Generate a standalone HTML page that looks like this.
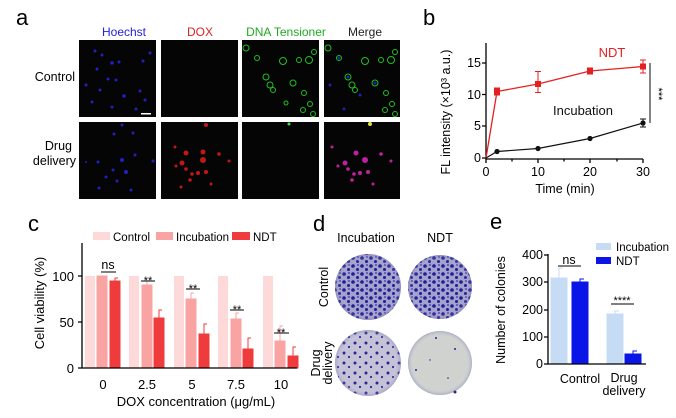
<!DOCTYPE html>
<html><head><meta charset="utf-8"><style>
body{margin:0;background:#fff;}
svg{display:block;font-family:"Liberation Sans",Arial,sans-serif;}
</style></head><body>
<svg width="676" height="418" viewBox="0 0 676 418" xmlns="http://www.w3.org/2000/svg">
<defs>
<pattern id="dense" width="9" height="8" patternUnits="userSpaceOnUse">
<rect width="9" height="8" fill="#a3a2cc"/>
<circle cx="2" cy="2" r="1.8" fill="#241a96"/><circle cx="6.5" cy="5.5" r="1.5" fill="#241a96"/><circle cx="7" cy="1" r="0.9" fill="#3a30a8"/>
</pattern>
<pattern id="med" width="11" height="10" patternUnits="userSpaceOnUse">
<rect width="11" height="10" fill="#c4c2d6"/>
<circle cx="3" cy="3" r="1.5" fill="#2f2696"/><circle cx="8" cy="7" r="1.1" fill="#2f2696"/>
</pattern>
<radialGradient id="rim"><stop offset="0.8" stop-color="#fff" stop-opacity="0"/><stop offset="1" stop-color="#6060a0" stop-opacity="0.3"/></radialGradient>
</defs>

<!-- Panel a -->
<text x="16" y="25" font-size="22">a</text>
<text x="124" y="36" font-size="12" fill="#2222dd" text-anchor="middle">Hoechst</text>
<text x="200" y="36" font-size="12" fill="#dd2222" text-anchor="middle">DOX</text>
<text x="286" y="36" font-size="12" fill="#22aa22" text-anchor="middle">DNA Tensioner</text>
<text x="365" y="36" font-size="12" fill="#222" text-anchor="middle">Merge</text>
<text x="75" y="81" font-size="12.5" text-anchor="end">Control</text>
<text x="72" y="150" font-size="12.5" text-anchor="end">Drug</text>
<text x="76" y="165" font-size="12.5" text-anchor="end">delivery</text>
<g fill="#050505">
<rect x="79" y="40" width="77" height="77"/><rect x="161" y="40" width="77" height="77"/><rect x="242" y="40" width="77" height="77"/><rect x="324" y="40" width="76" height="77"/>
<rect x="79" y="122" width="77" height="77"/><rect x="161" y="122" width="77" height="77"/><rect x="242" y="122" width="77" height="77"/><rect x="324" y="122" width="76" height="77"/>
</g>
<g fill="#2020c0">
<circle cx="95" cy="51" r="1.5"/><circle cx="102" cy="55" r="1.5"/><circle cx="112" cy="63" r="1.8"/><circle cx="119" cy="62" r="1.5"/><circle cx="97" cy="69" r="1.5"/><circle cx="108" cy="79" r="1.5"/><circle cx="116" cy="80" r="1.5"/><circle cx="86" cy="85" r="1.5"/><circle cx="100" cy="90" r="1.5"/><circle cx="124" cy="96" r="1.8"/><circle cx="140" cy="91" r="1.5"/><circle cx="145" cy="100" r="1.5"/><circle cx="92" cy="102" r="1.5"/><circle cx="112" cy="107" r="1.5"/><circle cx="136" cy="109" r="1.5"/><circle cx="150" cy="53" r="1.5"/><circle cx="143" cy="61" r="1.5"/>
<circle cx="122" cy="125" r="1.5"/><circle cx="114" cy="134" r="1.5"/><circle cx="133" cy="133" r="1.5"/><circle cx="135" cy="155" r="1.5"/><circle cx="122" cy="160" r="2"/><circle cx="98" cy="162" r="1.5"/><circle cx="113" cy="170" r="1.5"/><circle cx="126" cy="172" r="2"/><circle cx="106" cy="177" r="1.5"/><circle cx="117" cy="181" r="1.5"/><circle cx="99" cy="188" r="1.5"/><circle cx="131" cy="190" r="1.5"/><circle cx="153" cy="161" r="1.5"/><circle cx="86" cy="162" r="1"/>
</g>
<rect x="141" y="113" width="10" height="1.5" fill="#fff"/>
<g fill="none" stroke="#20c020" stroke-width="1">
<circle cx="246" cy="48" r="3"/><circle cx="257" cy="58" r="2.5"/><circle cx="283" cy="61" r="3.5"/><circle cx="299" cy="60" r="2.5"/><circle cx="314" cy="52" r="2.5"/><circle cx="309" cy="60" r="3.5"/><circle cx="266" cy="77" r="3"/><circle cx="270" cy="85" r="3"/><circle cx="273" cy="90" r="2.5"/><circle cx="293" cy="83" r="3"/><circle cx="304" cy="93" r="2.5"/><circle cx="310" cy="104" r="2.5"/><circle cx="303" cy="110" r="2.5"/><circle cx="286" cy="103" r="2"/><circle cx="313" cy="114" r="2.5"/>
<circle cx="328" cy="48" r="3"/><circle cx="339" cy="58" r="2.5"/><circle cx="365" cy="61" r="3.5"/><circle cx="381" cy="60" r="2.5"/><circle cx="395" cy="52" r="2.5"/><circle cx="391" cy="60" r="3.5"/><circle cx="348" cy="77" r="3"/><circle cx="352" cy="85" r="3"/><circle cx="355" cy="90" r="2.5"/><circle cx="375" cy="83" r="3"/><circle cx="386" cy="93" r="2.5"/><circle cx="392" cy="104" r="2.5"/><circle cx="385" cy="110" r="2.5"/><circle cx="395" cy="114" r="2.5"/>
</g>
<g fill="#2020b0"><circle cx="339" cy="58" r="1.5"/><circle cx="348" cy="77" r="1.5"/><circle cx="375" cy="83" r="1.5"/><circle cx="360" cy="95" r="1.5"/><circle cx="344" cy="109" r="1.5"/><circle cx="330" cy="85" r="1.5"/></g>
<circle cx="289" cy="124" r="1.5" fill="#40e040"/><circle cx="370" cy="124" r="2" fill="#e0e040"/>
<g fill="#c01818">
<circle cx="206" cy="125" r="2"/><circle cx="175" cy="147" r="1.5"/><circle cx="186" cy="153" r="2.5"/><circle cx="203" cy="152" r="2.5"/><circle cx="182" cy="163" r="2.5"/><circle cx="203" cy="160" r="3"/><circle cx="219" cy="154" r="1.8"/><circle cx="186" cy="169" r="1.8"/><circle cx="192" cy="174" r="1.8"/><circle cx="198" cy="173" r="2"/><circle cx="206" cy="172" r="2"/><circle cx="190" cy="180" r="1.8"/><circle cx="176" cy="166" r="1.5"/><circle cx="211" cy="184" r="1.5"/><circle cx="181" cy="187" r="1.5"/><circle cx="229" cy="161" r="1.5"/>
</g>
<g fill="#c020a0">
<circle cx="356" cy="153" r="2.5"/><circle cx="345" cy="163" r="2.5"/><circle cx="365" cy="160" r="3"/><circle cx="381" cy="154" r="1.8"/><circle cx="348" cy="169" r="1.8"/><circle cx="354" cy="174" r="1.8"/><circle cx="360" cy="173" r="2"/><circle cx="368" cy="172" r="2"/><circle cx="352" cy="180" r="1.8"/><circle cx="338" cy="166" r="1.5"/><circle cx="373" cy="184" r="1.5"/><circle cx="391" cy="161" r="1.5"/><circle cx="332" cy="147" r="1.5"/>
</g>

<!-- Panel b -->
<text x="423" y="25" font-size="22">b</text>
<g font-size="12.5" text-anchor="end">
<text x="481" y="67">15</text><text x="481" y="99">10</text><text x="481" y="130">5</text><text x="481" y="162">0</text>
</g>
<g stroke="#000" stroke-width="1.3" fill="none">
<path d="M486 43V159H643"/>
<path d="M482 63H486M482 94.5H486M482 126H486M482 158H486"/>
<path d="M486 159v4M538 159v4M590 159v4M643 159v4M512 159v2.5M564 159v2.5M617 159v2.5"/>
</g>
<g font-size="12.5" text-anchor="middle">
<text x="486" y="176">0</text><text x="538" y="176">10</text><text x="590" y="176">20</text><text x="643" y="176">30</text>
<text x="565" y="193">Time (min)</text>
</g>
<text transform="translate(450,112) rotate(-90)" font-size="12.5" text-anchor="middle">FL intensity (×10³ a.u.)</text>
<polyline points="486,158 497,91.5 538,84 590,71 643,66.5" fill="none" stroke="#e52020" stroke-width="1.3"/>
<g stroke="#e52020" stroke-width="1"><path d="M497 88v7M494 88h6M494 95h6M538 71.5v21M535 71.5h6M535 92.5h6M590 68v6M587 68h6M587 74h6M643 60v13M640 60h6M640 73h6"/></g>
<g fill="#e52020"><rect x="494" y="88.5" width="6" height="6"/><rect x="535" y="81" width="6" height="6"/><rect x="587" y="68" width="6" height="6"/><rect x="640" y="63.5" width="6" height="6"/></g>
<polyline points="486,158 497,151.5 538,148.5 590,138.5 643,123" fill="none" stroke="#111" stroke-width="1.2"/>
<g stroke="#111" stroke-width="1"><path d="M538 146v5M643 119v8M640 119h6M640 127h6"/></g>
<g fill="#111"><circle cx="497" cy="151.5" r="2.6"/><circle cx="538" cy="148.5" r="2.6"/><circle cx="590" cy="138.5" r="2.6"/><circle cx="643" cy="123" r="2.6"/></g>
<text x="612" y="57" font-size="13" fill="#e52020" text-anchor="middle">NDT</text>
<text x="583" y="115" font-size="13" fill="#111" text-anchor="middle">Incubation</text>
<path d="M650 63V123" stroke="#333" stroke-width="1.2"/>
<text transform="translate(655,94) rotate(90)" font-size="11" text-anchor="middle">***</text>

<!-- Panel c -->
<text x="28" y="231" font-size="22">c</text>
<g font-size="11.5">
<rect x="93" y="232" width="17" height="8" fill="#fdd9da"/><text x="113" y="241">Control</text>
<rect x="156" y="232" width="17" height="8" fill="#f9a3a3"/><text x="176" y="241">Incubation</text>
<rect x="232" y="232" width="18" height="8" fill="#ef3b3b"/><text x="253" y="241">NDT</text>
</g>
<g fill="#fdd9da">
<rect x="85" y="276" width="10" height="92"/><rect x="129" y="276" width="10" height="92"/><rect x="174" y="276" width="10" height="92"/><rect x="218" y="276" width="10" height="92"/><rect x="263" y="276" width="10" height="92"/>
</g>
<g fill="#f9a3a3" stroke="#f9a3a3">
<rect x="97" y="276" width="10" height="92"/><rect x="142" y="285" width="10" height="83"/><rect x="186" y="299" width="10" height="69"/><rect x="231" y="319" width="10" height="49"/><rect x="275" y="341" width="10" height="27"/>
<path d="M147 285v-4h3M191 299v-6h3M236 319v-6h3M280 341v-15h3" fill="none"/>
</g>
<g fill="#ef3b3b" stroke="#ef3b3b">
<rect x="110" y="281" width="10" height="87"/><rect x="154" y="318" width="10" height="50"/><rect x="199" y="334" width="10" height="34"/><rect x="243" y="349" width="10" height="19"/><rect x="288" y="356" width="10" height="12"/>
<path d="M115 281v-3h3M159 318v-8h3M204 334v-10h3M248 349v-11h3M293 356v-9h3" fill="none"/>
</g>
<g stroke="#000" stroke-width="1.3" fill="none">
<path d="M82 243V368H297"/>
<path d="M78 276H82M78 322H82M78 368H82"/>
</g>
<g font-size="13" text-anchor="end"><text x="74" y="281">100</text><text x="74" y="327">50</text><text x="74" y="373">0</text></g>
<g font-size="13" text-anchor="middle">
<text x="103" y="389">0</text><text x="147" y="389">2.5</text><text x="192" y="389">5</text><text x="236" y="389">7.5</text><text x="281" y="389">10</text>
<text x="196" y="406">DOX concentration (μg/mL)</text>
</g>
<text transform="translate(44,303) rotate(-90)" font-size="13" text-anchor="middle">Cell viability (%)</text>
<g stroke="#000" stroke-width="1"><path d="M101 272H116M141 281H155M186 289H200M230 310H244M274 333H289"/></g>
<text x="108" y="269" font-size="12.5" text-anchor="middle">ns</text>
<g font-size="11" text-anchor="middle"><text x="148" y="284">**</text><text x="193" y="292">**</text><text x="237" y="313">**</text><text x="281" y="336">**</text></g>

<!-- Panel d -->
<text x="313" y="231" font-size="22">d</text>
<text x="366" y="242" font-size="12.5" text-anchor="middle">Incubation</text>
<text x="440" y="242" font-size="12.5" text-anchor="middle">NDT</text>
<text transform="translate(328,287) rotate(-90)" font-size="12.5" text-anchor="middle">Control</text>
<text transform="translate(320,363) rotate(-90)" font-size="12.5" text-anchor="middle">Drug</text>
<text transform="translate(332,363) rotate(-90)" font-size="12.5" text-anchor="middle">delivery</text>
<circle cx="368" cy="287" r="33" fill="url(#dense)"/>
<circle cx="440" cy="287" r="32" fill="url(#dense)"/>
<circle cx="368" cy="363" r="33" fill="url(#med)"/>
<circle cx="440" cy="363" r="32" fill="#d0d2d0"/>
<g fill="#2a2090"><circle cx="436" cy="338" r="1"/><circle cx="455" cy="349" r="1"/><circle cx="416" cy="370" r="1"/><circle cx="448" cy="378" r="0.8"/><circle cx="455" cy="392" r="1.5"/><circle cx="430" cy="360" r="0.7"/></g>
<circle cx="368" cy="287" r="33" fill="url(#rim)"/><circle cx="440" cy="287" r="32" fill="url(#rim)"/><circle cx="368" cy="363" r="33" fill="url(#rim)"/><circle cx="440" cy="363" r="32" fill="url(#rim)"/>

<!-- Panel e -->
<text x="490" y="229" font-size="22">e</text>
<g font-size="11.5">
<rect x="596" y="243" width="15" height="7" fill="#c6dcf5"/><text x="616" y="251">Incubation</text>
<rect x="596" y="257" width="15" height="7" fill="#0a16e8"/><text x="616" y="265">NDT</text>
</g>
<g fill="#c6dcf5" stroke="#c6dcf5"><rect x="551" y="278" width="16" height="86"/><rect x="607" y="314" width="16" height="50"/><path d="M559 278v-10h4M615 314v-3h4" fill="none"/></g>
<g fill="#0a16e8" stroke="#0a16e8"><rect x="572" y="282" width="16" height="82"/><rect x="625" y="354" width="16" height="10"/><path d="M580 282v-3h4M633 354v-3h4" fill="none"/></g>
<g stroke="#000" stroke-width="1.3" fill="none">
<path d="M548 254V364H646"/>
<path d="M544 255H548M544 282H548M544 310H548M544 337H548M544 364H548"/>
</g>
<g font-size="12.5" text-anchor="end"><text x="543" y="259">400</text><text x="543" y="286">300</text><text x="543" y="314">200</text><text x="543" y="341">100</text><text x="543" y="368">0</text></g>
<text transform="translate(505,310) rotate(-90)" font-size="12.5" text-anchor="middle">Number of colonies</text>
<g font-size="12.5" text-anchor="middle"><text x="580" y="383">Control</text><text x="624" y="382">Drug</text><text x="624" y="395">delivery</text></g>
<path d="M558 266H581M611 304H634" stroke="#000" stroke-width="1"/>
<text x="569" y="264" font-size="12.5" text-anchor="middle">ns</text>
<text x="622" y="304" font-size="11" text-anchor="middle">****</text>
</svg>
</body></html>
